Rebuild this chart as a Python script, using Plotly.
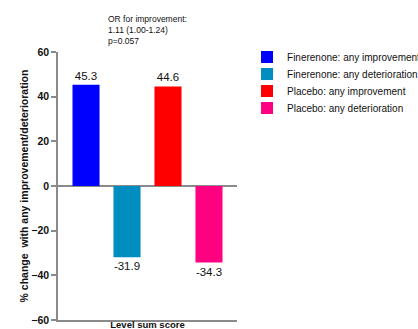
import plotly.graph_objects as go

category = ["Level sum score"]
series_names = ["Finerenone: any improvement", "Finerenone: any deterioration",
                "Placebo: any improvement", "Placebo: any deterioration"]
values = [45.3, -31.9, 44.6, -34.3]
colors = ["#0000FF", "#008DBF", "#FF0000", "#FF0080"]
y_ticks = [-60, -40, -20, 0, 20, 40, 60]

legend_ids = ["legend", "legend2", "legend3", "legend4"]
legend_row_px = [57, 74, 91, 108]   # row centres on page (pixels from top)
plot_top, plot_bottom = 52, 320

fig = go.Figure()
for name, v, c, lg in zip(series_names, values, colors, legend_ids):
    fig.add_trace(go.Bar(
        x=category, y=[v], name=name, legend=lg,
        marker=dict(color=c, line=dict(width=0)),
        text=[f"{v:.1f}"], textposition="outside", cliponaxis=False,
        textfont=dict(size=11.5, color="#111", family="Liberation Sans, Arial"),
    ))

legend_layout = {}
for lg, ypx in zip(legend_ids, legend_row_px):
    legend_layout[lg] = dict(
        x=1.056, y=(plot_bottom - ypx) / (plot_bottom - plot_top),
        xanchor="left", yanchor="middle",
        font=dict(size=10, color="#111"), itemwidth=30,
        bgcolor="rgba(0,0,0,0)", borderwidth=0,
    )

fig.update_layout(
    width=418, height=329,
    margin=dict(l=58, r=181, t=52, b=9, autoexpand=False),
    paper_bgcolor="white", plot_bgcolor="white",
    barmode="group", bargap=0.084, bargroupgap=0.34,
    font=dict(family="Liberation Sans, Arial", color="#111"),
    showlegend=True,
    **legend_layout,
)
fig.update_yaxes(
    automargin=False,
    range=[-60, 60], tickvals=y_ticks, ticks="outside", ticklen=5, tickwidth=1.5,
    tickcolor="#8a8a8a", showline=True, linecolor="#8a8a8a", linewidth=1.5,
    showgrid=False, zeroline=True, zerolinecolor="#8a8a8a", zerolinewidth=1.5,
    tickfont=dict(size=10.5, family="Liberation Sans, Arial", weight="bold"),
    title=dict(text="% change  with any improvement/deterioration",
               font=dict(size=10.5, weight="bold"), standoff=1),
)
fig.update_xaxes(
    automargin=False,
    showline=True, linecolor="#8a8a8a", linewidth=1.5, ticks="", showgrid=False,
    tickfont=dict(size=9.5, weight="bold"), ticklabelstandoff=-5,
)
fig.add_annotation(
    text="OR for improvement:<br>1.11 (1.00-1.24)<br>p=0.057",
    xref="paper", yref="paper", x=0.268, y=1.15,
    xanchor="left", yanchor="top", align="left", showarrow=False,
    font=dict(size=8.5, color="#111"),
)
fig.write_html("out.html",
               config={"displayModeBar": False},
               post_script="document.body.style.margin='0';document.body.style.overflow='hidden';")
